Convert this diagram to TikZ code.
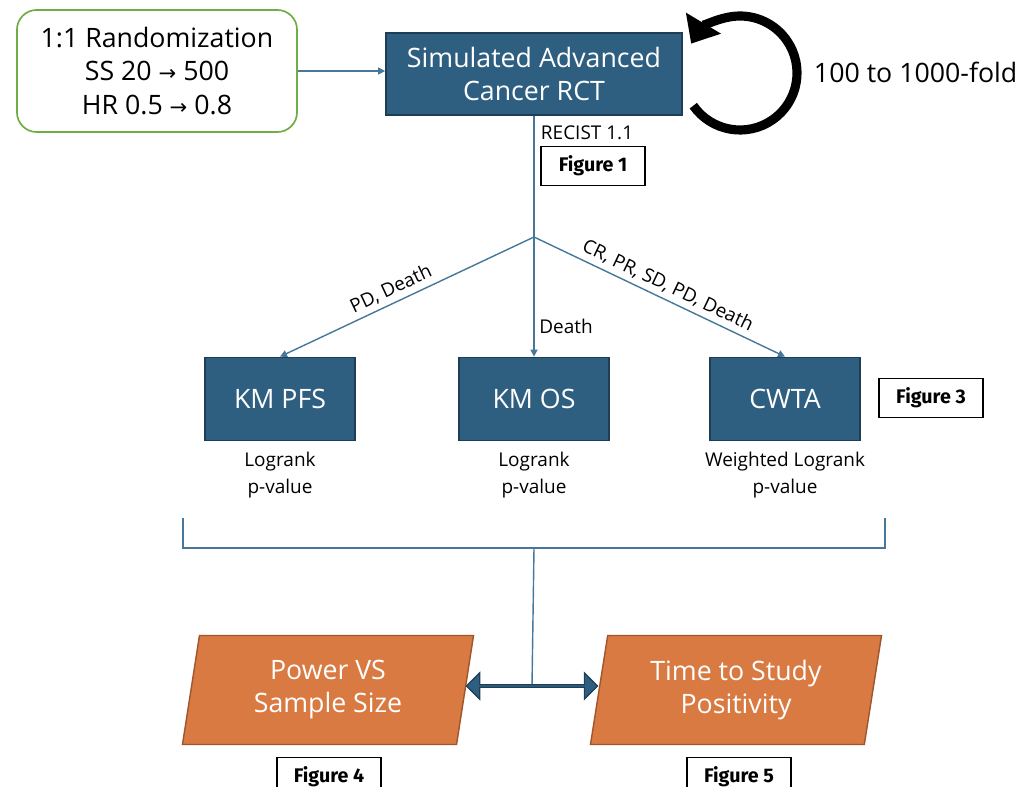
\documentclass[tikz,border=0pt]{standalone}
\usepackage{fontspec}
\setmainfont{Open Sans}
\newfontfamily\figfont{Fira Sans}
\newfontfamily\symfont{DejaVu Sans}
\usetikzlibrary{positioning,arrows.meta,shapes.geometric,shapes.arrows}
\definecolor{rctblue}{HTML}{2F5F80}
\definecolor{rctedge}{HTML}{1D3E55}
\definecolor{linkblue}{HTML}{45789A}
\definecolor{randgreen}{HTML}{70AD47}
\definecolor{outorange}{HTML}{D97A42}
\definecolor{outedge}{HTML}{A0552A}
\newcommand{\sarr}{{\symfont\fontsize{15}{15}\selectfont →}}

\begin{document}
\begin{tikzpicture}[x=0.025cm,y=-0.025cm,
    bigtext/.style={font=\fontsize{19}{23.5}\selectfont},
    smalltext/.style={font=\fontsize{13.5}{19}\selectfont},
    bluebox/.style={draw=rctedge,line width=1.2pt,fill=rctblue,text=white,align=center,bigtext},
    figbox/.style={draw=black,line width=1.2pt,minimum width=2.6cm,minimum height=0.97cm,
        font=\figfont\bfseries\fontsize{14}{16}\selectfont},
    outbox/.style={trapezium,trapezium left angle=76,trapezium right angle=104,
        trapezium stretches body,draw=outedge,line width=1pt,fill=outorange,text=white,
        align=center,minimum width=7.275cm,minimum height=2.725cm,bigtext},
    link/.style={draw=linkblue,line width=1pt},
    linkarrow/.style={link,-{Triangle[length=5pt,width=5pt]}}]
    \useasboundingbox (0,0) rectangle (1030,787);

    %% trial simulation
    \node[draw=randgreen,line width=1.2pt,rounded corners=14pt,minimum width=7cm,
        minimum height=3.05cm,align=center,bigtext] (rand) at (157,71)
        {1:1 Randomization\\SS 20 \sarr{} 500\\HR 0.5 \sarr{} 0.8};
    \node[bluebox,minimum width=7.4cm,minimum height=2.05cm] (rct) at (534,74)
        {Simulated Advanced\\Cancer RCT};
    \draw[linkarrow] (rand.east) -- (rand.east -| rct.west);

    %% repetition loop
    \coordinate (loopc) at (740,73);
    \draw[line width=6.5pt,-{Triangle[length=17pt,width=28pt]}]
        (loopc) ++(145:57) arc[start angle=145,end angle=-149,radius=57];
    \node[bigtext,anchor=west] (fold) at (809,72) {100 to 1000-fold};

    %% endpoints
    \coordinate (split) at (534,237);
    \draw[link] (rct.south) -- (split);
    \node[smalltext,anchor=west] (recist) at (536,133) {RECIST 1.1};
    \node[figbox] (fig1) at (593,166) {Figure 1};

    \foreach \name/\x/\txt in {pfs/280/KM PFS,os/534/KM OS,cwta/785/CWTA}
        \node[bluebox,minimum width=3.75cm,minimum height=2.075cm] (\name) at (\x,399) {\txt};
    \draw[linkarrow] (split) -- node[sloped,above,smalltext,pos=0.54] (pfslab) {PD, Death} (pfs.north);
    \draw[linkarrow] (split) -- node[right,smalltext,pos=0.75] (oslab) {Death} (os.north);
    \draw[linkarrow] (split) -- node[sloped,above,smalltext,pos=0.51] (cwtalab) {CR, PR, SD, PD, Death} (cwta.north);
    \node[figbox] (fig3) at (931,398) {Figure 3};

    \node[smalltext,align=center,below=4pt of pfs] (pfsp) {Logrank\\p-value};
    \node[smalltext,align=center,below=4pt of os] (osp) {Logrank\\p-value};
    \node[smalltext,align=center,below=4pt of cwta] (cwtap) {Weighted Logrank\\p-value};

    %% summary
    \coordinate (brl) at (183,518);
    \coordinate (brr) at (885,518);
    \coordinate (brm) at (534,548);
    \draw[link] (brl) |- (brm) -| (brr);

    \node[outbox] (power) at (328,690) {Power VS\\Sample Size};
    \node[outbox] (ttp) at (736,690) {Time to Study\\Positivity};
    \coordinate (dblc) at (532,686);
    \draw[link] (brm) -- (dblc);
    \node[double arrow,draw=rctedge,fill=rctblue,line width=0.8pt,minimum height=3.275cm,
        minimum width=0.66cm,double arrow head extend=0.12cm,inner sep=0pt] (dbl) at (dblc) {};

    \node[figbox] (fig4) at (329,777) {Figure 4};
    \node[figbox] (fig5) at (739,777) {Figure 5};
\end{tikzpicture}
\end{document}
